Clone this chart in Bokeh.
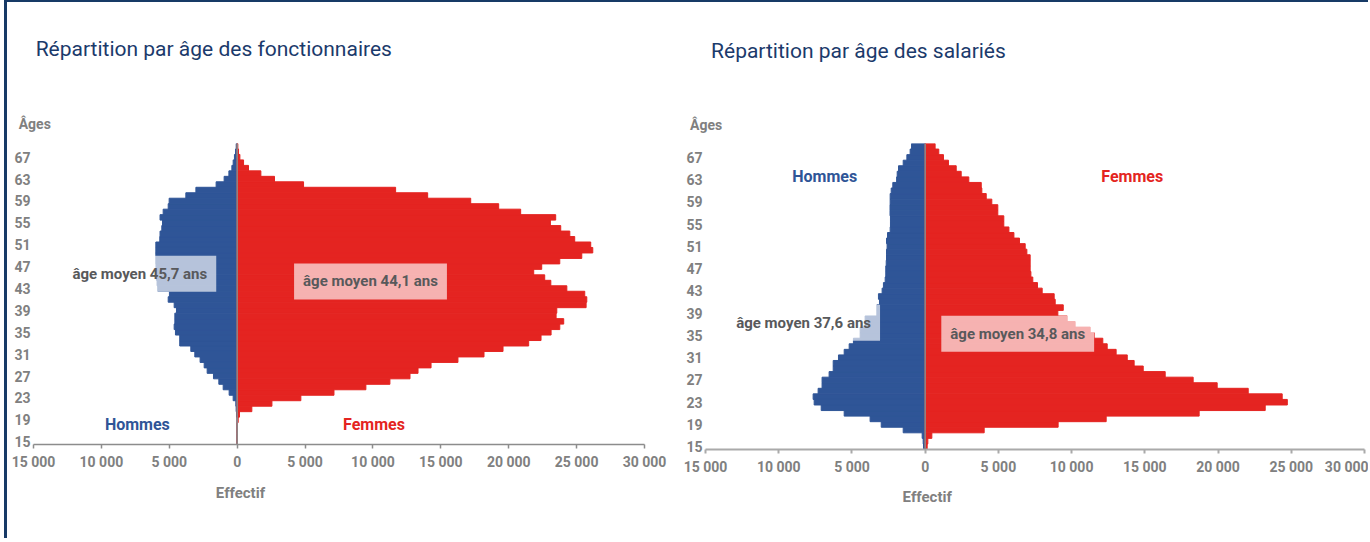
from bokeh.plotting import figure
from bokeh.models import Range1d, FixedTicker, Span, Label
from bokeh.layouts import row
from bokeh.embed import file_html
from bokeh.resources import INLINE

# ---------------- data ----------------
ages = list(range(15, 70))

fonct_hommes = [0, 0, 0, 0, 0,
                50, 75, 100, 295, 590,
                1030, 1350, 1745, 2210, 2430,
                2730, 3120, 3415, 4230, 4230,
                4545, 4640, 4590, 4590, 4470,
                4640, 5080, 4990, 5850, 5900,
                5950, 5950, 5980, 5990, 5990,
                5990, 5990, 5700, 5680, 5550,
                5500, 5680, 5450, 5080, 5010,
                3780, 3040, 1550, 960, 610,
                390, 295, 200, 120, 70]

fonct_femmes = [0, 0, 0, 0, 75,
                170, 1080, 2560, 4690, 7130,
                9480, 11250, 12730, 13320, 14280,
                16260, 18180, 19580, 21470, 22380,
                23120, 23760, 24050, 23490, 23540,
                25700, 25750, 25600, 24280, 23100,
                22650, 21840, 22430, 23760, 25380,
                26190, 26040, 24860, 24500, 23830,
                23070, 23460, 20880, 19260, 17200,
                14030, 11670, 4890, 2750, 1745,
                835, 470, 200, 100, 50]

sal_hommes = [114, 137, 205, 1500, 3000,
              3760, 5530, 7100, 7580, 7650,
              7310, 7040, 7040, 6560, 6280,
              6280, 5920, 5530, 5190, 4900,
              4440, 4440, 4100, 4100, 3300,
              3300, 3120, 3190, 2940, 2850,
              2730, 2690, 2690, 2660, 2640,
              2640, 2600, 2640, 2570, 2390,
              2370, 2370, 2400, 2400, 2390,
              2390, 2320, 2210, 1950, 1910,
              1820, 1500, 1250, 1025, 930]

sal_femmes = [137, 182, 455, 4030, 9080,
              12360, 18710, 23220, 24730, 24380,
              22060, 19940, 18300, 16390, 14890,
              14270, 13800, 13040, 12430, 12130,
              11540, 11270, 10240, 9700, 9060,
              9430, 8880, 8810, 7990, 7670,
              7350, 7220, 7170, 7170, 7170,
              6945, 6830, 6440, 6060, 5720,
              5370, 5370, 4960, 4960, 4550,
              4170, 3870, 3830, 2980, 2460,
              2120, 1590, 1250, 930, 680]

x_ticks = [-15000, -10000, -5000, 0, 5000, 10000, 15000, 20000, 25000, 30000]
x_tick_labels = ["15 000", "10 000", "5 000", "0", "5 000", "10 000",
                 "15 000", "20 000", "25 000", "30 000"]
y_ticks = list(range(15, 68, 4))

titles = ["Répartition par âge des fonctionnaires", "Répartition par âge des salariés"]
mean_hommes = ["âge moyen 45,7 ans", "âge moyen 37,6 ans"]
mean_femmes = ["âge moyen 44,1 ans", "âge moyen 34,8 ans"]

# ---------------- style ----------------
FONT = "Roboto"
BLUE = "#2f5597"
RED = "#e42421"
NAVY = "#1b3a6b"
GRAY = "#808080"
DARK = "#58595b"


def make_pyramid(hommes, femmes, title, lab_h, lab_f, frame_w, frame_h,
                 b_left, b_right, b_top, b_bottom, axis_color, axis_width,
                 pos):
    p = figure(frame_width=frame_w, frame_height=frame_h,
               x_range=Range1d(-15000, 30000), y_range=Range1d(14.5, 69.5),
               output_backend="svg", toolbar_location=None,
               min_border_left=b_left, min_border_right=b_right,
               min_border_top=b_top, min_border_bottom=b_bottom)
    p.outline_line_color = None
    p.xgrid.visible = False
    p.ygrid.visible = False
    p.background_fill_color = "white"
    p.border_fill_color = "white"

    left_vals = [-v for v in hommes]
    p.hbar(y=ages, left=left_vals, right=0, height=1,
           fill_color=BLUE, line_color=BLUE, line_width=1)
    p.hbar(y=ages, left=0, right=femmes, height=1,
           fill_color=RED, line_color=RED, line_width=1)

    p.add_layout(Span(location=0, dimension="height",
                      line_color="#8a8a8a", line_width=1.5))

    # x axis
    xa = p.xaxis[0]
    xa.ticker = FixedTicker(ticks=x_ticks)
    xa.major_label_overrides = {t: s for t, s in zip(x_ticks, x_tick_labels)}
    xa.axis_line_color = axis_color
    xa.axis_line_width = axis_width
    xa.major_tick_line_color = axis_color
    xa.major_tick_line_width = axis_width
    xa.major_tick_out = 4
    xa.major_tick_in = 0
    xa.minor_tick_line_color = None
    xa.major_label_standoff = 5
    xa.major_label_text_font = FONT
    xa.major_label_text_font_style = "bold"
    xa.major_label_text_font_size = "14px"
    xa.major_label_text_color = GRAY

    # y axis
    ya = p.yaxis[0]
    ya.ticker = FixedTicker(ticks=y_ticks)
    ya.axis_line_color = None
    ya.major_tick_line_color = None
    ya.minor_tick_line_color = None
    ya.major_tick_out = 0
    ya.major_tick_in = 0
    ya.major_label_standoff = 3
    ya.major_label_text_font = FONT
    ya.major_label_text_font_style = "bold"
    ya.major_label_text_font_size = "14px"
    ya.major_label_text_color = GRAY

    def lab(x, y, text, color, size, align="center", style="bold", bg=False,
            pad=0, place="center"):
        kw = dict(x=x, y=y, text=text, text_color=color, text_font=FONT,
                  text_font_size=size, text_font_style=style,
                  text_align=align, text_baseline="middle")
        if bg:
            kw.update(background_fill_color="white", background_fill_alpha=0.65,
                      padding=pad)
        p.add_layout(Label(**kw), place)

    lab(pos["title"][0], pos["title"][1], title, NAVY, "21px", align="left",
        style="normal", place="above")
    lab(pos["ages"][0], pos["ages"][1], "Âges", GRAY, "14px", align="left",
        place="above")
    lab(pos["eff"][0], pos["eff"][1], "Effectif", GRAY, "15px", place="below")
    lab(pos["hommes"][0], pos["hommes"][1], "Hommes", BLUE, "16px")
    lab(pos["femmes"][0], pos["femmes"][1], "Femmes", RED, "16px")
    lab(pos["mh"][0], pos["mh"][1], lab_h, DARK, "15px", bg=True, pad=9)
    lab(pos["mf"][0], pos["mf"][1], lab_f, DARK, "15px", bg=True, pad=9)
    return p


pos1 = dict(title=(-14840, 86.7), ages=(-16090, 73.0), eff=(240, 5.65),
            hommes=(-7350, 18.2), femmes=(10080, 18.1),
            mh=(-7170, 45.7), mf=(9820, 44.3))
pos2 = dict(title=(-14620, 86.2), ages=(-16050, 72.8), eff=(140, 5.9),
            hommes=(-6860, 63.6), femmes=(14140, 63.6),
            mh=(-8300, 37.3), mf=(6320, 35.3))

p1 = make_pyramid(fonct_hommes, fonct_femmes, titles[0], mean_hommes[0], mean_femmes[0],
                  611, 301, 26, 36, 141, 94, "#8c8c8c", 1.5, pos1)
p2 = make_pyramid(sal_hommes, sal_femmes, titles[1], mean_hommes[1], mean_femmes[1],
                  659, 306, 25, 4, 140, 90, "#aaaaaa", 2, pos2)

layout = row(p1, p2, styles={"border-left": "3px solid #173a66",
                             "border-top": "2px solid #173a66",
                             "margin-left": "4px"})

open("out.html", "w").write(file_html(layout, INLINE))
